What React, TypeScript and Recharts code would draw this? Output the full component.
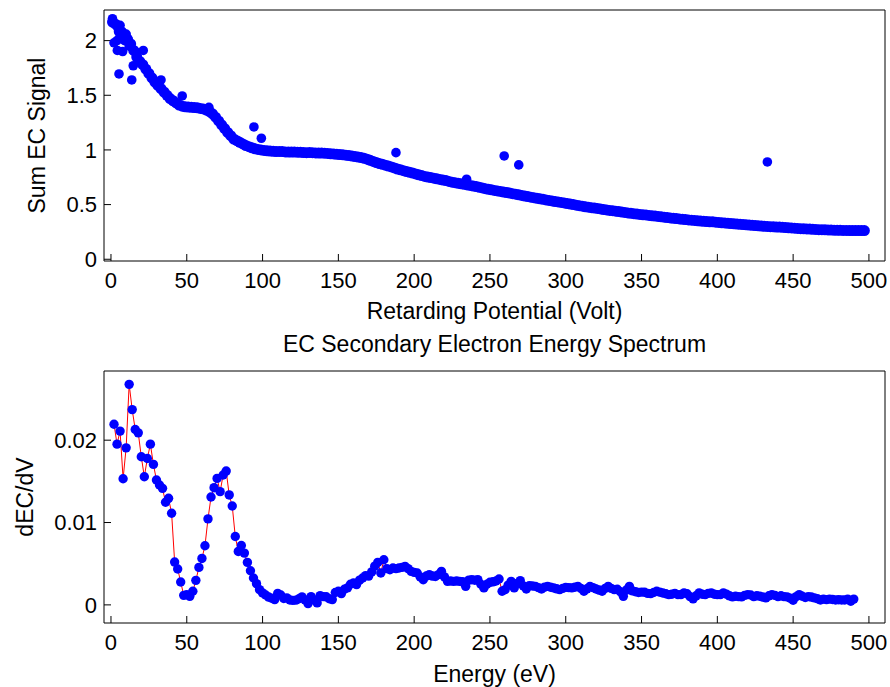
import { ComposedChart, Line, Scatter, ScatterChart, XAxis, YAxis, Label } from "recharts";

// top panel: retarding potential sweep (1 V .. 497 V, every 2 V)
const POT_START = 1;
const POT_STEP = 2;
const sumSignal = [
	2.17, 2.15, 2.12, 2.08, 2.04, 2.01, 1.97, 1.91, 1.85, 1.81,
	1.78, 1.74, 1.7, 1.66, 1.62, 1.59, 1.56, 1.53, 1.5, 1.47,
	1.45, 1.43, 1.41, 1.4, 1.395, 1.392, 1.39, 1.388, 1.385, 1.38,
	1.375, 1.365, 1.35, 1.33, 1.3, 1.265, 1.23, 1.195, 1.16, 1.13,
	1.1, 1.085, 1.07, 1.055, 1.04, 1.03, 1.02, 1.01, 1.005, 1.0,
	0.995, 0.992, 0.99, 0.988, 0.985, 0.986, 0.985, 0.982, 0.98, 0.981,
	0.98, 0.979, 0.978, 0.976, 0.975, 0.976, 0.975, 0.973, 0.972, 0.971,
	0.97, 0.968, 0.965, 0.963, 0.96, 0.958, 0.955, 0.952, 0.948, 0.944,
	0.94, 0.935, 0.93, 0.923, 0.915, 0.905, 0.895, 0.885, 0.875, 0.868,
	0.86, 0.852, 0.845, 0.835, 0.825, 0.818, 0.81, 0.802, 0.795, 0.788,
	0.78, 0.772, 0.765, 0.758, 0.752, 0.747, 0.742, 0.736, 0.73, 0.725,
	0.72, 0.712, 0.705, 0.7, 0.695, 0.69, 0.685, 0.68, 0.675, 0.67,
	0.665, 0.658, 0.652, 0.646, 0.64, 0.635, 0.63, 0.625, 0.62, 0.615,
	0.61, 0.605, 0.6, 0.595, 0.59, 0.584, 0.578, 0.573, 0.568, 0.563,
	0.558, 0.553, 0.548, 0.543, 0.538, 0.533, 0.528, 0.524, 0.52, 0.515,
	0.51, 0.505, 0.5, 0.495, 0.49, 0.485, 0.48, 0.476, 0.472, 0.468,
	0.465, 0.46, 0.455, 0.451, 0.447, 0.444, 0.44, 0.436, 0.432, 0.428,
	0.424, 0.42, 0.417, 0.413, 0.41, 0.407, 0.405, 0.401, 0.398, 0.395,
	0.392, 0.388, 0.385, 0.381, 0.378, 0.375, 0.372, 0.369, 0.366, 0.363,
	0.36, 0.357, 0.355, 0.352, 0.35, 0.347, 0.345, 0.343, 0.342, 0.339,
	0.337, 0.334, 0.332, 0.329, 0.327, 0.324, 0.322, 0.32, 0.318, 0.315,
	0.313, 0.31, 0.308, 0.306, 0.304, 0.302, 0.3, 0.298, 0.297, 0.295,
	0.294, 0.292, 0.29, 0.288, 0.286, 0.284, 0.282, 0.28, 0.279, 0.277,
	0.276, 0.274, 0.273, 0.271, 0.27, 0.269, 0.268, 0.267, 0.266, 0.265,
	0.265, 0.264, 0.264, 0.263, 0.263, 0.262, 0.262, 0.262, 0.262,
];

// scattered readings off the main band
const strayPot = [1, 2, 3, 4, 4.2, 5, 5.3, 6, 7, 7.7, 9, 10, 11, 12, 13.7, 14.7, 16, 21.3, 33, 47, 64.6, 94.3, 99.2, 188, 234.6, 259.4, 269, 433];
const straySig = [2.2, 1.98, 2.15, 2.0, 1.91, 2.08, 1.695, 2.14, 2.02, 1.9, 2.0, 2.06, 2.02, 1.95, 1.64, 1.77, 1.9, 1.91, 1.64, 1.494, 1.39, 1.21, 1.107, 0.975, 0.732, 0.945, 0.863, 0.89];

// bottom panel: derivative, 2 eV .. 490 eV every 2 eV
const E_STEP = 2;
const dECdV = [
	0.02194, 0.01952, 0.0211, 0.01532, 0.01907, 0.02678, 0.02371, 0.0213, 0.02089, 0.01799,
	0.01556, 0.01778, 0.01952, 0.01706, 0.01516, 0.01456, 0.01415, 0.01246, 0.01294, 0.01113,
	0.0052, 0.00436, 0.00278, 0.00116, 0.00125, 0.00104, 0.00165, 0.00298, 0.00455, 0.00564,
	0.00718, 0.01044, 0.0131, 0.01423, 0.01536, 0.01375, 0.01577, 0.01625, 0.01335, 0.01201,
	0.0083, 0.00649, 0.00721, 0.00629, 0.00516, 0.00415, 0.00327, 0.00258, 0.00185, 0.00145,
	0.0012, 0.00095, 0.0008, 0.00064, 0.0014, 0.0012, 0.00078, 0.00085, 0.0006, 0.00055,
	0.00058, 0.00075, 0.00097, 0.0006, 0.00016, 0.001, 0.0006, 0.00024, 0.00112, 0.001,
	0.00098, 0.00075, 0.00064, 0.0015, 0.00165, 0.00137, 0.0019, 0.00206, 0.0025, 0.00266,
	0.00246, 0.003, 0.00327, 0.00355, 0.0035, 0.004, 0.0047, 0.00516, 0.00387, 0.00548,
	0.0044, 0.00427, 0.00448, 0.0044, 0.00448, 0.00455, 0.00467, 0.0044, 0.00407, 0.00395,
	0.00387, 0.0034, 0.00306, 0.0035, 0.00367, 0.0035, 0.00345, 0.00367, 0.00407, 0.0034,
	0.00286, 0.0029, 0.00286, 0.0029, 0.00286, 0.0028, 0.00225, 0.003, 0.00306, 0.003,
	0.00306, 0.0025, 0.00206, 0.0025, 0.00274, 0.0028, 0.0029, 0.00314, 0.00165, 0.00185,
	0.0024, 0.00286, 0.00206, 0.0026, 0.00294, 0.0023, 0.00193, 0.00234, 0.0023, 0.00225,
	0.0021, 0.00193, 0.00215, 0.00225, 0.00215, 0.00206, 0.00195, 0.00185, 0.002, 0.00213,
	0.0021, 0.00206, 0.00215, 0.00225, 0.002, 0.00165, 0.00195, 0.00225, 0.0021, 0.00193,
	0.0018, 0.00165, 0.002, 0.00225, 0.002, 0.00185, 0.0019, 0.0016, 0.00104, 0.0018,
	0.00225, 0.0017, 0.0016, 0.0015, 0.00155, 0.00153, 0.0014, 0.00137, 0.0015, 0.00165,
	0.00155, 0.00145, 0.00135, 0.00125, 0.0013, 0.0014, 0.00125, 0.00125, 0.00145, 0.00135,
	0.001, 0.00073, 0.0011, 0.00145, 0.0013, 0.00125, 0.0014, 0.00145, 0.0013, 0.00125,
	0.00125, 0.00145, 0.0013, 0.0011, 0.00097, 0.00105, 0.001, 0.00097, 0.00115, 0.00125,
	0.0012, 0.001, 0.0011, 0.00105, 0.00095, 0.00085, 0.0011, 0.00125, 0.00115, 0.001,
	0.0011, 0.001, 0.00097, 0.0008, 0.00056, 0.001, 0.00125, 0.00105, 0.0009, 0.001,
	0.00095, 0.00085, 0.00075, 0.0006, 0.0007, 0.00064, 0.0007, 0.00065, 0.0006, 0.00062,
	0.0006, 0.0006, 0.0007, 0.00044, 0.0007,
];

const xTicks = [0, 50, 100, 150, 200, 250, 300, 350, 400, 450, 500];
const topYTicks = [0, 0.5, 1, 1.5, 2];
const botYTicks = [0, 0.01, 0.02];

const X_DOMAIN: [number, number] = [-4.6, 510.6];
const TOP_Y: [number, number] = [-0.016, 2.28];
const BOT_Y: [number, number] = [-0.0022, 0.0284];

const bandData = sumSignal.map((s, i) => ({ x: POT_START + i * POT_STEP, y: s }));
const strayData = strayPot.map((p, i) => ({ x: p, y: straySig[i] }));
const specData = dECdV.map((d, i) => ({ e: (i + 1) * E_STEP, d }));

const BLUE = "#0000ff";
const tickStyle = { fill: "#000", fontSize: 22 };
const axisStroke = { stroke: "#000" };

const dot = (r: number) => (p: any) => <circle cx={p.cx} cy={p.cy} r={r} fill={BLUE} />;
const noDot = () => <g />;

export default function App() {
	return (
		<div style={{ position: "absolute", left: 0, top: 0, width: 890, height: 687, background: "#fff", fontFamily: "'Liberation Sans', Arial, sans-serif" }}>
			<div style={{ position: "absolute", left: 0, top: 0 }}>
				<ScatterChart width={890} height={330} margin={{ top: 9, right: 4, bottom: 0, left: 0 }}>
					<XAxis
						type="number"
						dataKey="x"
						domain={X_DOMAIN}
						allowDataOverflow
						ticks={xTicks}
						height={69}
						tick={tickStyle}
						tickSize={-7}
						tickMargin={18}
						axisLine={axisStroke}
						tickLine={axisStroke}
					>
						<Label value="Retarding Potential (Volt)" position="insideBottom" offset={11} fill="#000" fontSize={23} />
					</XAxis>
					<XAxis xAxisId="top" orientation="top" type="number" dataKey="x" domain={X_DOMAIN} allowDataOverflow ticks={xTicks} height={1} tick={false} tickSize={-7} axisLine={axisStroke} tickLine={axisStroke} />
					<YAxis
						type="number"
						dataKey="y"
						domain={TOP_Y}
						allowDataOverflow
						ticks={topYTicks}
						width={104}
						tick={tickStyle}
						tickSize={-7}
						tickMargin={14}
						axisLine={axisStroke}
						tickLine={axisStroke}
					>
						<Label value="Sum EC Signal" angle={-90} position="insideLeft" offset={37} fill="#000" fontSize={23} style={{ textAnchor: "middle" }} />
					</YAxis>
					<YAxis yAxisId="right" orientation="right" type="number" dataKey="y" domain={TOP_Y} allowDataOverflow ticks={topYTicks} width={1} tick={false} tickSize={-7} axisLine={axisStroke} tickLine={axisStroke} />
					<Scatter data={bandData} fill={BLUE} shape={dot(5.5)} isAnimationActive={false} />
					<Scatter data={strayData} fill={BLUE} shape={dot(4.8)} isAnimationActive={false} />
					{/* keeps the top and right frame axes alive */}
					<Scatter xAxisId="top" yAxisId="right" data={strayData} shape={noDot} isAnimationActive={false} />
				</ScatterChart>
			</div>
			<div style={{ position: "absolute", left: 0, top: 330 }}>
				<ComposedChart width={890} height={357} data={specData} margin={{ top: 40, right: 4, bottom: 0, left: 0 }}>
					<XAxis
						type="number"
						dataKey="e"
						domain={X_DOMAIN}
						allowDataOverflow
						ticks={xTicks}
						height={64}
						tick={tickStyle}
						tickSize={-7}
						tickMargin={18}
						axisLine={axisStroke}
						tickLine={axisStroke}
					>
						<Label value="Energy (eV)" position="insideBottom" offset={5} fill="#000" fontSize={23} />
					</XAxis>
					<XAxis xAxisId="top" orientation="top" type="number" dataKey="e" domain={X_DOMAIN} allowDataOverflow ticks={xTicks} height={1} tick={false} tickSize={-7} axisLine={axisStroke} tickLine={axisStroke}>
						<Label value="EC Secondary Electron Energy Spectrum" position="top" offset={18} fill="#000" fontSize={23} />
					</XAxis>
					<YAxis
						type="number"
						dataKey="d"
						domain={BOT_Y}
						allowDataOverflow
						ticks={botYTicks}
						width={104}
						tick={tickStyle}
						tickSize={-7}
						tickMargin={14}
						tickFormatter={(v: number) => (v === 0 ? "0" : String(v))}
						axisLine={axisStroke}
						tickLine={axisStroke}
					>
						<Label value="dEC/dV" angle={-90} position="insideLeft" offset={25} fill="#000" fontSize={23} style={{ textAnchor: "middle" }} />
					</YAxis>
					<YAxis yAxisId="right" orientation="right" type="number" dataKey="d" domain={BOT_Y} allowDataOverflow ticks={botYTicks} width={1} tick={false} tickSize={-7} axisLine={axisStroke} tickLine={axisStroke} />
					<Scatter data={specData} dataKey="d" fill={BLUE} shape={dot(4.7)} isAnimationActive={false} />
					<Line dataKey="d" stroke="#ff0000" strokeWidth={1} dot={false} activeDot={false} isAnimationActive={false} />
					<Scatter xAxisId="top" yAxisId="right" data={specData} dataKey="d" shape={noDot} isAnimationActive={false} />
				</ComposedChart>
			</div>
		</div>
	);
}
